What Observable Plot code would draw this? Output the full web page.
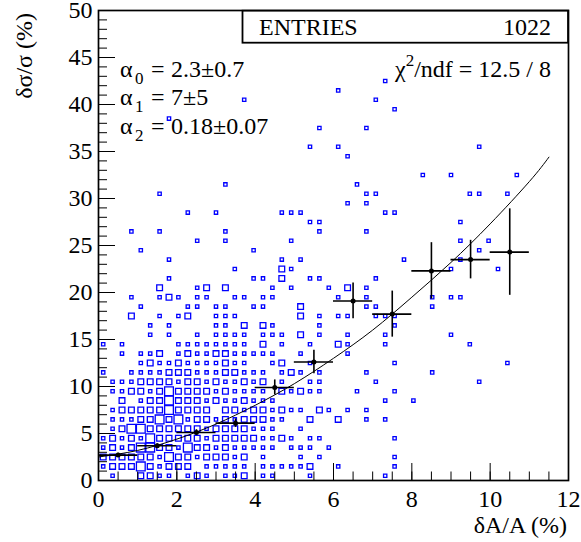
<!DOCTYPE html>
<html><head><meta charset="utf-8">
<script src="https://cdn.jsdelivr.net/npm/d3@7"></script>
<script src="https://cdn.jsdelivr.net/npm/@observablehq/plot@0.6"></script>
<style>html,body{margin:0;padding:0;background:#fff}svg{display:block}</style>
</head><body><div id="chart"></div>
<script>
// ---- 2D histogram (50 x-bins of 0.24 over 0..12, 50 y-bins of 1 over 0..50) ----
const xBinWidth = 0.24;
const yBinWidth = 1;
// each row: [yBin, "xBin:count xBin:count ..."]
const histRows = [
  [0, "1:1 4:3 5:3 6:1 7:1 9:1 10:3 11:1 13:1 14:1 15:3 17:1 18:1 22:1 30:1"],
  [1, "0:1 1:3 2:3 3:3 4:7 5:3 6:1 7:3 8:3 9:3 11:1 12:1 13:1 14:1 15:1 17:1 18:1 19:1 20:1 21:1 22:3 25:1 31:1"],
  [2, "0:3 1:3 2:3 3:3 4:3 5:3 6:1 7:7 8:3 9:3 10:1 11:3 12:3 13:3 14:1 15:3 17:1 21:1 23:1 31:1"],
  [3, "0:1 1:3 2:1 3:3 4:7 5:7 6:3 7:3 8:1 9:7 10:3 11:3 12:1 13:3 14:1 15:1 16:1 17:1 18:1 20:1 21:1 22:1 24:1"],
  [4, "0:1 1:3 2:1 3:3 4:1 5:7 6:3 7:3 8:3 9:3 10:3 11:1 12:3 13:3 14:3 15:3 16:3 17:1 18:1 19:3 20:1 22:1 23:1 31:1"],
  [5, "1:1 2:3 3:7 4:7 5:3 6:3 7:3 8:3 9:3 10:3 11:1 12:3 13:3 14:3 15:3 16:1 17:1 18:1 21:1"],
  [6, "1:1 2:1 3:1 4:3 5:3 6:7 7:3 8:7 9:1 10:3 11:3 12:1 13:3 14:1 15:3 16:3 17:3 18:1 19:1 22:3 25:3 28:1 30:1"],
  [7, "1:1 2:3 3:3 4:3 5:3 6:3 7:7 8:3 9:3 10:3 11:3 13:3 14:3 15:1 16:3 17:3 18:1 19:3 20:1 21:1 23:3 24:1 26:1 28:1"],
  [8, "2:3 4:1 5:3 6:3 7:7 8:3 9:3 10:3 11:1 12:3 13:1 14:1 15:3 16:1 17:1 18:1 30:1 33:1"],
  [9, "1:1 2:1 3:3 4:3 5:1 6:3 7:7 8:3 9:3 10:3 11:3 12:1 13:3 14:1 15:1 16:1 17:1 19:3 20:1 21:3 22:1 23:1 27:1 31:1"],
  [10, "1:1 2:1 3:1 4:3 5:3 6:3 7:3 8:1 9:3 10:3 11:1 12:3 13:1 14:1 15:3 16:1 17:3 19:1 22:1 23:1 29:1 40:1"],
  [11, "0:1 3:1 4:1 5:1 6:1 7:3 8:3 9:3 10:1 11:1 12:1 13:3 14:3 15:1 16:1 17:1 19:1 20:3 21:1 23:1 28:1 35:1"],
  [12, "4:1 5:3 6:1 7:1 8:3 9:1 10:1 11:1 12:1 13:3 14:1 15:1 18:1 19:3 22:1 31:1 43:1"],
  [13, "2:1 4:1 5:1 6:3 8:1 9:3 10:1 11:1 12:3 13:3 14:1 15:1 16:1 17:1 18:1 21:1 26:1"],
  [14, "0:1 2:1 8:1 9:1 10:1 11:1 12:1 13:1 14:1 15:1 17:3 19:1 22:1 25:3 26:1 30:1 39:1"],
  [15, "5:1 7:1 10:1 12:1 13:1 14:1 15:1 17:1 18:1 19:1 21:3 23:1 26:1 30:1 37:1"],
  [16, "5:1 7:1 12:1 13:1 15:3 17:3 18:1 23:1 31:1"],
  [17, "3:3 6:1 8:1 9:3 12:1 13:1 14:1 21:3 23:1 25:1 26:1 29:1 30:1 31:1"],
  [18, "4:1 9:1 10:1 12:1 13:1 16:1 17:1 21:3 28:1 29:1 35:1"],
  [19, "3:1 6:1 7:3 8:1 10:1 11:1 14:1 15:1 17:1 18:1 25:1 28:1 35:1 37:1 38:1"],
  [20, "6:3 10:1 11:3 13:3 18:1 20:1 24:1 26:3 28:1"],
  [21, "7:1 16:1 17:1 19:3 22:1 23:1 29:1"],
  [22, "14:1 19:3 20:1 37:1 42:1"],
  [23, "7:1 19:1 21:1 32:1 38:1"],
  [24, "4:1 16:1 40:1"],
  [25, "10:1 13:1 20:1 38:1 41:1"],
  [26, "3:1 6:1 13:1 23:1 28:1"],
  [27, "22:1 23:1 38:1"],
  [28, "9:1 12:1 19:1 20:1 21:1 30:1 31:1"],
  [29, "26:1 28:1"],
  [30, "6:1 28:1 29:1 39:1 40:1 43:1"],
  [31, "13:1 27:1"],
  [32, "34:1 37:1 44:1"],
  [34, "26:1"],
  [35, "22:1 25:1 40:1"],
  [37, "23:1 28:1"],
  [38, "7:1"],
  [39, "31:1"],
  [40, "15:1 29:1"],
  [41, "25:1"],
  [42, "30:1"]
];

// ---- profile points (mean per 1% slice) ----
const profX = [0.5, 1.5, 2.5, 3.5, 4.5, 5.5, 6.5, 7.5, 8.5, 9.5, 10.5];
const profY = [2.7, 3.7, 5.1, 6.1, 9.9, 12.6, 19.1, 17.7, 22.3, 23.5, 24.3];
const profErr = [0.2, 0.2, 0.3, 0.45, 0.8, 1.25, 1.9, 2.45, 3.0, 2.05, 4.6];
const profHalfWidth = 0.5;

// ---- fit curve ----
const fitX = [0, 1, 2, 3, 4, 5, 6, 7, 8, 9, 10, 11, 11.5];
const fitY = [2.5, 3.2, 4.4, 6.0, 8.0, 10.3, 13.0, 16.0, 19.5, 23.2, 27.3, 31.8, 34.4];

// ---- axes ----
const xMajorTicks = [0, 2, 4, 6, 8, 10, 12];
const xMinorTicks = d3.range(0, 12.001, 0.5);
const yMajorTicks = [0, 5, 10, 15, 20, 25, 30, 35, 40, 45, 50];
const yMinorTicks = d3.range(0, 50.001, 1);
const xTitle = "δA/A (%)";
const yTitle = "δσ/σ (%)";

// ---- stats texts ----
const entriesLabel = "ENTRIES";
const entriesValue = "1022";
const fitParams = [["0", "2.3±0.7"], ["1", "7±5"], ["2", "0.18±0.07"]];
const chi2Text = "/ndf = 12.5 / 8";

// build tables
const cells = [];
for (const [j, s] of histRows) {
  for (const tok of s.split(" ")) {
    const [i, n] = tok.split(":").map(Number);
    cells.push({x: (i + 0.5) * xBinWidth, y: (j + 0.5) * yBinWidth, n});
  }
}
const profile = profX.map((x, k) => ({x, y: profY[k], e: profErr[k]}));
const fit = fitX.map((x, k) => ({x, y: fitY[k]}));

const FONT = "Liberation Serif, Times New Roman, Times, serif";
const FS = 24;
const plot = Plot.plot({
  width: 581, height: 542,
  marginLeft: 98, marginRight: 13, marginTop: 10, marginBottom: 62,
  style: {fontFamily: FONT, fontSize: FS + "px", background: "white", color: "black", overflow: "visible"},
  x: {domain: [0, 12]},
  y: {domain: [0, 50]},
  r: {type: "sqrt", domain: [0, 9], range: [0, 5.6]},
  marks: [
    Plot.dot(cells, {x: "x", y: "y", r: "n", symbol: "square", stroke: "#0000ff", fill: "none", strokeWidth: 1.3}),
    Plot.line(fit, {x: "x", y: "y", curve: "natural", stroke: "black", strokeWidth: 1}),
    Plot.ruleY(profile, {x1: d => d.x - profHalfWidth, x2: d => d.x + profHalfWidth, y: "y", stroke: "black", strokeWidth: 1.6}),
    Plot.ruleX(profile, {x: "x", y1: d => d.y - d.e, y2: d => d.y + d.e, stroke: "black", strokeWidth: 1.6}),
    Plot.dot(profile, {x: "x", y: "y", r: 2.5, fill: "black"}),
    Plot.axisX({ticks: xMinorTicks, tickSize: -8.5, fill: "none", label: null}),
    Plot.axisX({ticks: xMajorTicks, tickSize: -17, fill: "none", label: null}),
    Plot.axisY({ticks: yMinorTicks, tickSize: -9, fill: "none", label: null}),
    Plot.axisY({ticks: yMajorTicks, tickSize: -17, fill: "none", label: null}),
    Plot.axisX({ticks: xMajorTicks, tickSize: 0, tickPadding: 9, label: null, fontFamily: FONT}),
    Plot.axisY({ticks: yMajorTicks, tickSize: 0, tickPadding: 6, label: null, fontFamily: FONT}),
    Plot.frame({stroke: "black", strokeWidth: 1.7})
  ]
});
plot.setAttribute("font-family", FONT);
document.getElementById("chart").appendChild(plot);

const svg = d3.select(plot);
const xs = plot.scale("x"), ys = plot.scale("y");
const L = xs.range[0], R = xs.range[1], B = ys.range[0], T = ys.range[1];
const g = svg.append("g").attr("font-family", FONT).style("font-family", FONT)
  .attr("font-size", FS).attr("fill", "black").attr("text-anchor", "start");

// stats box
g.append("rect").attr("x", R - 325.5).attr("y", T + 0.7).attr("width", 325.5).attr("height", 32)
  .attr("fill", "white").attr("stroke", "black").attr("stroke-width", 1.8);
g.append("text").attr("x", R - 309).attr("y", T + 25).text(entriesLabel);
g.append("text").attr("x", R - 17).attr("y", T + 25).attr("text-anchor", "end").text(entriesValue);

// fit parameters
fitParams.forEach(([sub, val], k) => {
  const y = T + 67 + k * 28.3;
  const x0 = L + 22;
  g.append("text").attr("x", x0).attr("y", y).text("α");
  g.append("text").attr("x", x0 + 15).attr("y", y + 7).attr("font-size", 17).text(sub);
  g.append("text").attr("x", x0 + 31).attr("y", y).text("=");
  g.append("text").attr("x", x0 + 51).attr("y", y).text(val);
});
const c = g.append("text").attr("x", R - 17).attr("y", T + 67).attr("text-anchor", "end");
c.append("tspan").text("χ");
c.append("tspan").attr("font-size", 17).attr("dy", -11).text("2");
c.append("tspan").attr("dy", 11).text(chi2Text);

// axis titles
g.append("text").attr("x", R - 1).attr("y", B + 53).attr("text-anchor", "end").text(xTitle);
g.append("text").attr("transform", `translate(${L - 66},${T + 3}) rotate(-90)`).attr("text-anchor", "end").text(yTitle);
</script>
</body></html>
